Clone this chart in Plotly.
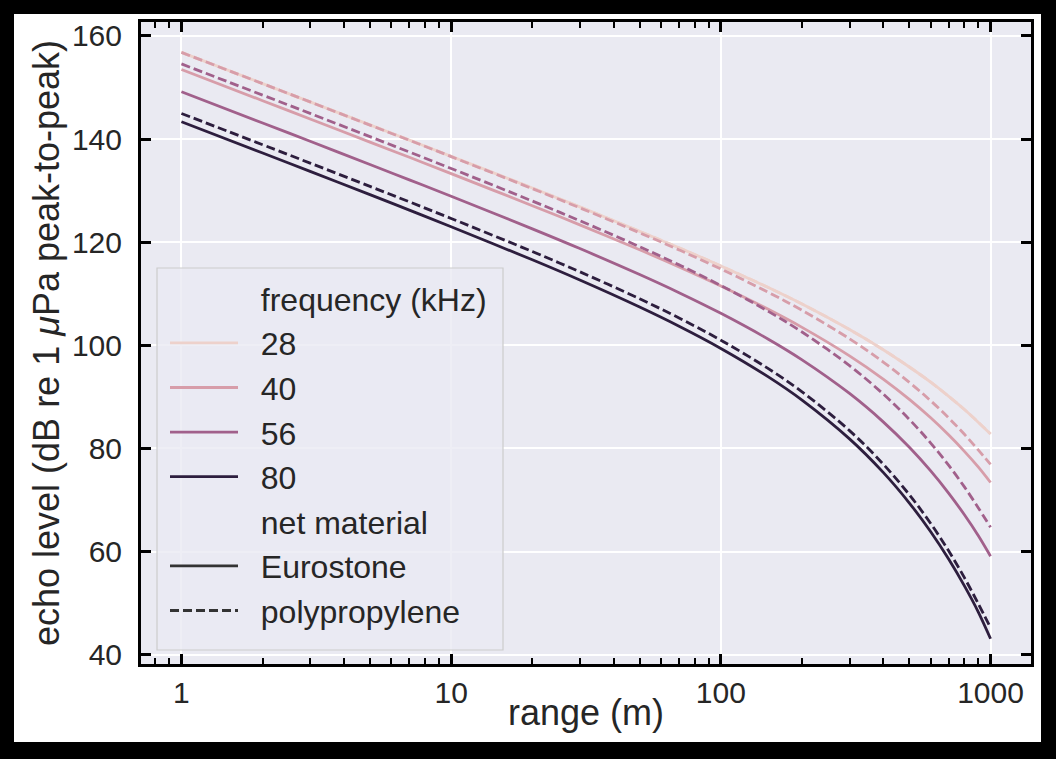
import plotly.graph_objects as go

# ---------------- data ----------------
range_m = [1, 2, 3, 5, 7, 10, 20, 30, 50, 70, 100, 150, 200, 300, 400, 500, 600, 700, 800, 900, 1000]

freqs_khz = [28, 40, 56, 80]
materials = ["Eurostone", "polypropylene"]

eurostone_28 = [156.8, 150.75, 147.2, 142.75, 139.8, 136.65, 130.5, 126.85, 122.1, 118.9, 115.4,
                111.2, 108.0, 103.05, 99.15, 95.8, 92.85, 90.1, 87.55, 85.1, 82.8]
eurostone_40 = [153.5, 147.44, 143.9, 139.4, 136.46, 133.3, 127.08, 123.36, 118.52, 115.2, 111.5,
                106.98, 103.48, 97.96, 93.46, 89.52, 85.94, 82.6, 79.44, 76.42, 73.4]
eurostone_56 = [149.17, 143.12, 139.57, 135.07, 132.09, 128.9, 122.58, 118.76, 113.72, 110.2, 106.2,
                101.18, 97.18, 90.66, 85.16, 80.22, 75.64, 71.3, 67.14, 63.12, 59.1]
eurostone_80 = [143.36, 137.3, 133.74, 129.22, 126.22, 123.0, 116.58, 112.66, 107.42, 103.7, 99.4,
                93.88, 89.38, 81.86, 75.36, 69.42, 63.84, 58.5, 53.34, 48.32, 43.1]

polyprop_28 = [156.8, 150.75, 147.2, 142.75, 139.8, 136.65, 130.5, 126.85, 122.1, 118.9, 115.4,
               111.2, 108.0, 103.05, 99.15, 95.8, 92.85, 90.1, 87.55, 85.1, 82.8]
polyprop_40 = [156.8, 150.74, 147.2, 142.7, 139.76, 136.6, 130.38, 126.66, 121.82, 118.5, 114.8,
               110.28, 106.78, 101.26, 96.76, 92.82, 89.24, 85.9, 82.74, 79.72, 76.9]
polyprop_56 = [154.57, 148.52, 144.97, 140.47, 137.49, 134.3, 127.98, 124.16, 119.12, 115.6, 111.6,
               106.58, 102.58, 96.06, 90.56, 85.62, 81.04, 76.7, 72.54, 68.52, 64.7]
polyprop_80 = [144.96, 138.9, 135.34, 130.82, 127.82, 124.6, 118.18, 114.26, 109.02, 105.3, 101.0,
               95.48, 90.98, 83.46, 76.96, 71.02, 65.44, 60.1, 54.94, 49.92, 45.2]

x_major_ticks = [1, 10, 100, 1000]
x_major_labels = ["1", "10", "100", "1000"]
y_ticks = [40, 60, 80, 100, 120, 140, 160]

# ---------------- styling ----------------
colors = {28: "#EDD1CB", 40: "#D79DA9", 56: "#A1608B", 80: "#2D1E3E"}
dash_of = {"Eurostone": "solid", "polypropylene": "9px,4px"}
series = {
    ("Eurostone", 28): eurostone_28, ("Eurostone", 40): eurostone_40,
    ("Eurostone", 56): eurostone_56, ("Eurostone", 80): eurostone_80,
    ("polypropylene", 28): polyprop_28, ("polypropylene", 40): polyprop_40,
    ("polypropylene", 56): polyprop_56, ("polypropylene", 80): polyprop_80,
}

W, H = 1056, 759
PL, PR, PT, PB = 141, 1031, 22, 664  # plot-area pixel edges
TXT = "#262626"
FONT = "Liberation Sans, Arial, sans-serif"
LW = 2.8

fig = go.Figure()

for f in freqs_khz:
    for m in materials:
        fig.add_trace(go.Scatter(
            x=range_m, y=series[(m, f)], mode="lines",
            line=dict(color=colors[f], width=LW, dash=dash_of[m], shape="spline"),
            showlegend=False, hoverinfo="skip"))

NB = "\u00a0\u00a0"

def legend_entry(name, color, dash="solid"):
    fig.add_trace(go.Scatter(
        x=[None], y=[None], mode="lines", name=NB + name,
        line=dict(color=color, width=LW, dash=dash), showlegend=True))

legend_entry("frequency (kHz)", "rgba(0,0,0,0)")
for f in freqs_khz:
    legend_entry(str(f), colors[f])
legend_entry("net material", "rgba(0,0,0,0)")
legend_entry("Eurostone", "#333333", "solid")
legend_entry("polypropylene", "#333333", "9px,4px")

minor_vals = [0.8, 0.9]
for dec in [1, 10, 100]:
    minor_vals += [k * dec for k in range(2, 10)]

def px_x(px):
    return (px - PL) / (PR - PL)

def px_y(py):
    return (PB - py) / (PB - PT)

# black frame around the figure
border = [(0, 0, 14, H), (0, 0, W, 14), (1041, 0, W, H), (0, 742, W, H)]
for x0, y0, x1, y1 in border:
    fig.add_shape(type="rect", xref="paper", yref="paper",
                  x0=px_x(x0), x1=px_x(x1), y0=px_y(y1), y1=px_y(y0),
                  fillcolor="black", line=dict(width=0), layer="above")

# legend box
fig.add_shape(type="rect", xref="paper", yref="paper",
              x0=px_x(157), x1=px_x(503), y0=px_y(650), y1=px_y(268),
              fillcolor="rgba(234,234,242,0.8)", line=dict(color="#CCCCCC", width=1.2),
              layer="above")

# axis titles
fig.add_annotation(text="range (m)", xref="paper", yref="paper",
                   x=0.5, y=px_y(712), xanchor="center", yanchor="middle",
                   showarrow=False, font=dict(size=36, color=TXT, family=FONT))
fig.add_annotation(text="echo level (dB re 1 <i>μ</i>Pa peak-to-peak)", xref="paper", yref="paper",
                   x=px_x(46), y=0.5, xanchor="center", yanchor="middle", textangle=-90,
                   showarrow=False, font=dict(size=36, color=TXT, family=FONT))

fig.update_layout(
    width=W, height=H,
    margin=dict(l=PL, r=W - PR, t=PT, b=H - PB, pad=0),
    paper_bgcolor="white",
    plot_bgcolor="#EAEAF2",
    font=dict(family=FONT, color=TXT, size=30),
    xaxis=dict(
        type="log", range=[-0.15, 3.15],
        tickmode="array", tickvals=x_major_ticks, ticktext=x_major_labels,
        ticks="inside", ticklen=10, tickwidth=2.5, tickcolor="black",
        showline=True, linecolor="black", linewidth=3, mirror="allticks",
        showgrid=True, gridcolor="white", gridwidth=2.2,
        zeroline=False,
        tickfont=dict(size=30, color=TXT, family=FONT),
        minor=dict(tickmode="array", tickvals=minor_vals, ticks="inside", ticklen=6,
                   tickwidth=1.6, tickcolor="black", showgrid=False),
    ),
    yaxis=dict(
        range=[38.2, 162.7],
        tickmode="array", tickvals=y_ticks,
        ticks="inside", ticklen=10, tickwidth=2.5, tickcolor="black",
        showline=True, linecolor="black", linewidth=3, mirror="allticks",
        showgrid=True, gridcolor="white", gridwidth=2.2,
        zeroline=False, ticklabelstandoff=10,
        tickfont=dict(size=30, color=TXT, family=FONT),
    ),
    legend=dict(
        x=px_x(165), y=px_y(271), xanchor="left", yanchor="top",
        bgcolor="rgba(0,0,0,0)", borderwidth=0,
        font=dict(size=32, color=TXT, family=FONT),
        itemwidth=68, traceorder="normal",
    ),
)

fig.write_html("out.html", config={"displayModeBar": False},
               post_script="document.body.style.margin='0';")
